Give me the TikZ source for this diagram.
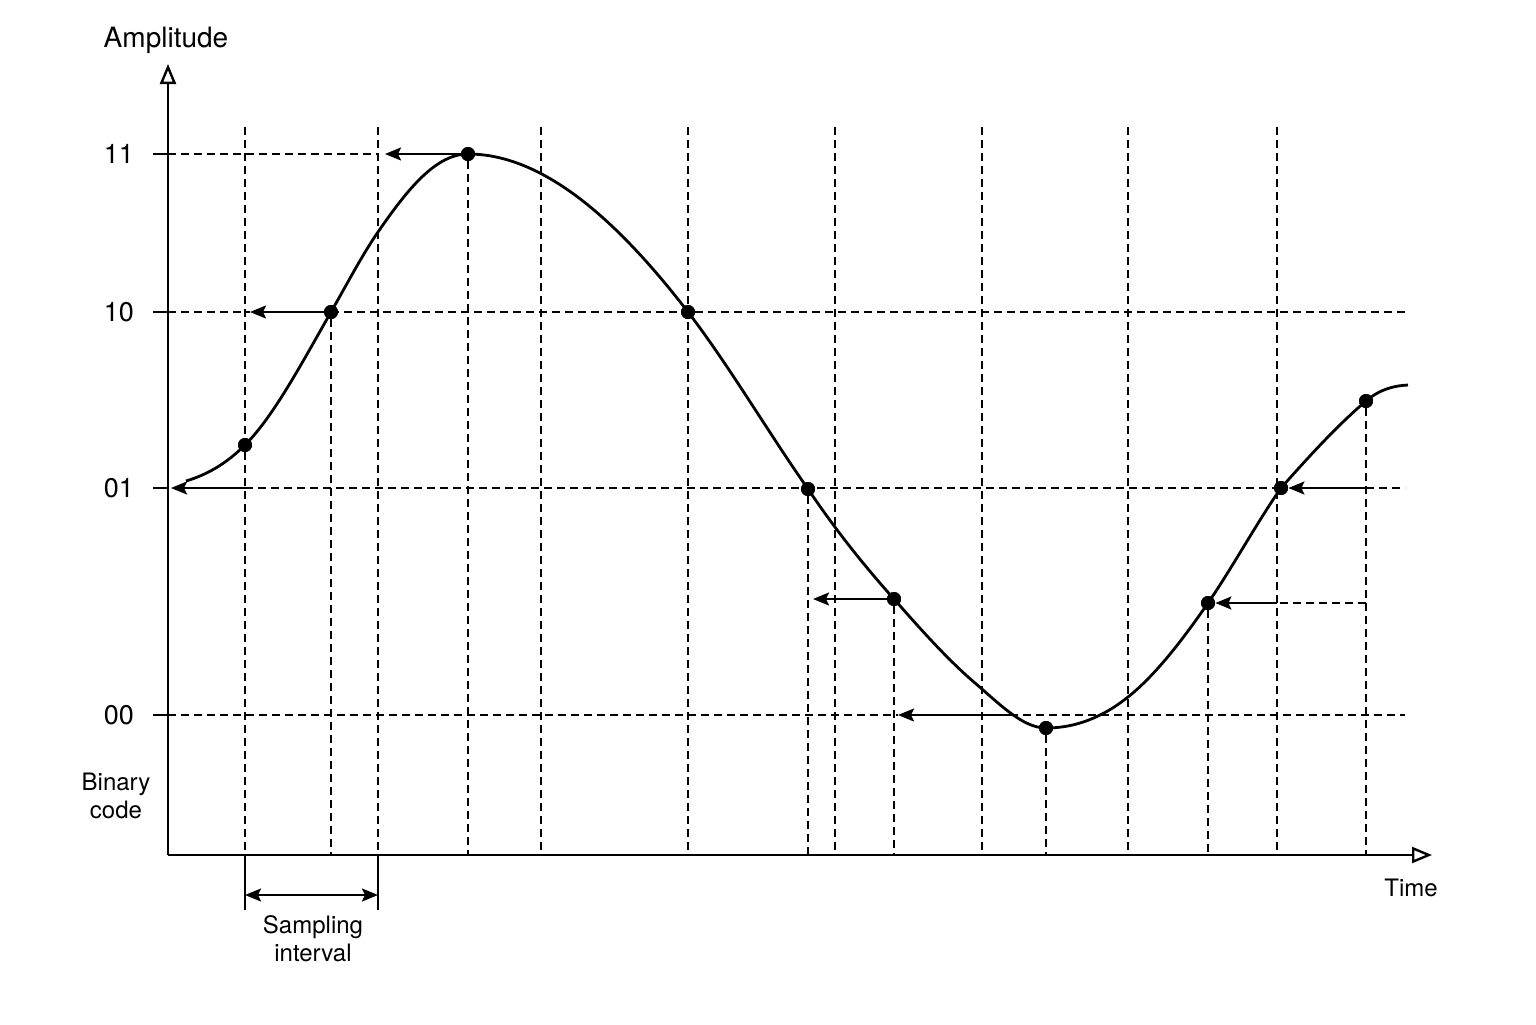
\documentclass[tikz,border=0pt]{standalone}
\usepackage{fontspec}
\setmainfont{TeX Gyre Heros}
\usetikzlibrary{arrows.meta}
\begin{document}
\begin{tikzpicture}[x=0.5pt,y=-0.5pt,
  gridline/.style={line width=0.75pt, dash pattern=on 4pt off 2.5pt},
  axisline/.style={line width=1.2pt, -{Triangle[open,length=10pt,width=8pt]}},
  tickline/.style={line width=0.9pt},
  qarrow/.style={line width=1pt, -{Stealth[length=8pt,width=6.5pt,inset=1.5pt]}},
  darrow/.style={line width=1pt, {Stealth[length=8pt,width=6.5pt,inset=1.5pt]}-{Stealth[length=8pt,width=6.5pt,inset=1.5pt]}},
  wave/.style={line width=1.4pt},
  sample/.style={circle, fill=black, inner sep=0pt, minimum size=7pt},
  biglbl/.style={font=\fontsize{14}{16}\selectfont},
  numlbl/.style={font=\fontsize{13.5}{15}\selectfont, anchor=east},
  lbl/.style={font=\fontsize{12}{14}\selectfont, align=center}
]
\useasboundingbox (0,0) rectangle (1536,1024);

% ---- coordinates ----
\coordinate (O) at (168,855);
\coordinate (ytop) at (168,64);
\coordinate (xend) at (1432,855);

% ---- vertical grid lines from the top ----
\foreach \x in {245,378,541,688,835,982,1128,1277}
  \draw[gridline] (\x,127) -- (\x,855);

% ---- horizontal level lines ----
\draw[gridline] (168,154) -- (378,154);
\draw[gridline] (168,312) -- (250,312);
\draw[gridline] (331,312) -- (1405,312);
\draw[gridline] (245,488) -- (1281,488);
\draw[gridline] (1366,488) -- (1405,488);
\draw[gridline] (1366,603) -- (1277,603);
\draw[gridline] (168,715) -- (898,715);
\draw[gridline] (1010,715) -- (1405,715);

% ---- ticks ----
\foreach \y in {154,312,488,715}
  \draw[tickline] (153,\y) -- (168,\y);

% ---- sample points ----
\node[sample] (s1) at (245,445) {};
\node[sample] (s2) at (331,312) {};
\node[sample] (s3) at (468,154) {};
\node[sample] (s4) at (688,312) {};
\node[sample] (s5) at (808,489) {};
\node[sample] (s6) at (894,599) {};
\node[sample] (s7) at (1046,728) {};
\node[sample] (s8) at (1208,603) {};
\node[sample] (s9) at (1281,488) {};
\node[sample] (s10) at (1366,401) {};

% ---- vertical dashed drops from sample points ----
\foreach \s in {s2,s3,s5,s6,s7,s8,s10}
  \draw[gridline] (\s) -- (\s |- O);

% ---- axes ----
\draw[axisline] (O) -- (ytop);
\draw[axisline] (O) -- (xend);

% ---- waveform ----
\draw[wave] (186,481)
  .. controls (205.7,475.1) and (225.3,464.7) .. (245,445)
  .. controls (273.7,416.3) and (302.3,362.2) .. (331,312)
  .. controls (346.7,284.6) and (362.3,254.7) .. (378,232)
  .. controls (408,188.5) and (436,154) .. (468,154)
  .. controls (541.3,154) and (614.7,216.7) .. (688,312)
  .. controls (728,364) and (768,432) .. (808,489)
  .. controls (836.7,531.6) and (865.3,567) .. (894,599)
  .. controls (921,629.7) and (948,660) .. (975,683)
  .. controls (998.7,703.1) and (1022.3,728) .. (1046,728)
  .. controls (1073.3,728) and (1100.7,718.8) .. (1128,697)
  .. controls (1154.7,675.7) and (1181.3,641.7) .. (1208,603)
  .. controls (1232.3,567.7) and (1256.7,522.8) .. (1281,488)
  .. controls (1309.3,456) and (1337.7,425.1) .. (1366,401)
  .. controls (1380,389.1) and (1394,385.7) .. (1408,385);

% ---- quantisation arrows ----
\coordinate (a11) at (385,154);
\coordinate (a10) at (250,312);
\coordinate (a01s) at (245,488);
\coordinate (a01) at (171,488);
\coordinate (am) at (813,599);
\coordinate (a00s) at (1010,715);
\coordinate (a00) at (898,715);
\coordinate (r01) at (1366,488);
\coordinate (r05s) at (1277,603);
\draw[qarrow] (s3) -- (a11);
\draw[qarrow] (s2) -- (a10);
\draw[qarrow] (a01s) -- (a01);
\draw[qarrow] (s6) -- (am);
\draw[qarrow] (a00s) -- (a00);
\draw[qarrow] (r01) -- (s9);
\draw[qarrow] (r05s) -- (s8);

% dots on top
\foreach \s in {s1,s2,s3,s4,s5,s6,s7,s8,s9,s10}
  \fill (\s.center) circle (3.5pt);

% ---- sampling interval ----
\coordinate (si1) at (245,910);
\coordinate (si2) at (378,910);
\draw[line width=0.75pt] (245,855) -- (si1);
\draw[line width=0.75pt] (378,855) -- (si2);
\coordinate (sa) at (245,895);
\coordinate (sb) at (378,895);
\draw[darrow] (sa) -- (sb);

% ---- labels ----
\node[biglbl] (amp) at (166,40) {Amplitude};
\node[numlbl] (n11) at (141,154) {11};
\node[numlbl] (n10) at (141,312) {10};
\node[numlbl] (n01) at (141,488) {01};
\node[numlbl] (n00) at (141,715) {00};
\node[lbl] (bc) at (116,796) {Binary\\code};
\node[lbl] (si) at (313,939) {Sampling\\interval};
\node[lbl] (tm) at (1411,888) {Time};
\end{tikzpicture}
\end{document}
